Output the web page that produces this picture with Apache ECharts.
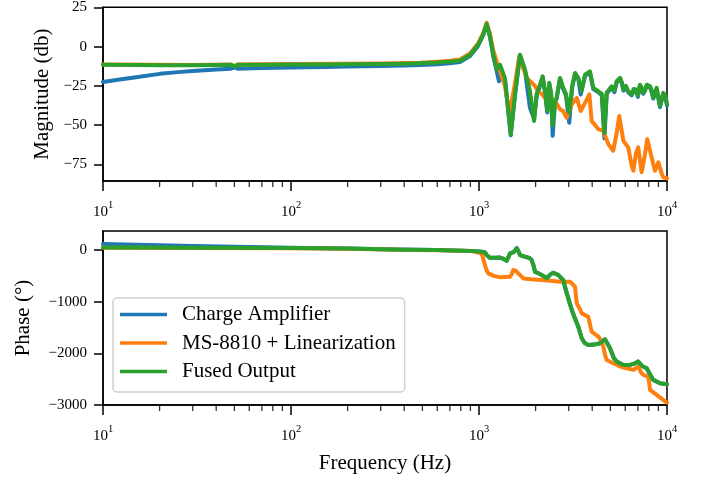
<!DOCTYPE html>
<html>
<head>
<meta charset="utf-8">
<script src="https://cdn.jsdelivr.net/npm/echarts@6/dist/echarts.min.js"></script>
<style>html,body{margin:0;padding:0;background:#fff}#c{width:702px;height:481px}</style>
</head>
<body>
<div id="c"></div>
<script>
const seriesNames = ['Charge Amplifier', 'MS-8810 + Linearization', 'Fused Output'];
const colors = ['#1f77b4', '#ff7f0e', '#2ca02c'];
const magTicks = [-75, -50, -25, 0, 25];
const phaseTicks = [-3000, -2000, -1000, 0];
const magRange = [-85.6, 25.2];
const phaseRange = [-3000, 370];
const minorFreqs = [20,30,40,50,60,70,80,90,200,300,400,500,600,700,800,900,2000,3000,4000,5000,6000,7000,8000,9000];

const magCharge = [[10,-22.5],[12,-21],[15,-19.5],[20,-17.3],[25,-16.2],[30,-15.5],[40,-14.5],[48,-14.0],[50,-13.2],[52,-14.0],[70,-13.6],[100,-13.3],[150,-13],[200,-12.6],[300,-12.3],[400,-12],[490,-11.7],[600,-11.2],[700,-10.5],[792,-9.8],[896,-6.0],[988,0.5],[1050,7],[1099,14],[1145,6],[1191,-6],[1242,-15.5],[1277,-22],[1294,-14],[1374,-21],[1475,-56.5],[1554,-31],[1652,-5.5],[1757,-15.5],[1867,-39],[1963,-46],[2028,-31],[2100,-26],[2182,-19.5],[2244,-29],[2307,-42],[2366,-24],[2420,-31],[2466,-56.8],[2535,-36],[2588,-33],[2698,-20.5],[2806,-27],[2900,-31],[3020,-48.5],[3130,-26],[3243,-17.5],[3373,-20.5],[3475,-30.5],[3664,-18.5],[3892,-16.5],[4055,-27],[4315,-29],[4500,-31],[4645,-58.5],[4778,-30],[5082,-26],[5250,-29],[5395,-23],[5623,-20.5],[5750,-23],[5861,-28],[6050,-26],[6223,-29],[6350,-30],[6486,-31],[6650,-28],[6839,-28],[7000,-32],[7178,-25],[7330,-27],[7482,-30],[7650,-29],[7798,-25],[7950,-24],[8128,-26],[8290,-29],[8453,-33],[8630,-30],[8811,-27],[9000,-28],[9183,-38.5],[9380,-34],[9550,-30],[9800,-32],[10000,-37.5]];

const magMS = [[10,-11.3],[20,-11.5],[30,-11.6],[48,-11.4],[50,-12.3],[52,-11.4],[100,-11.0],[200,-10.9],[300,-10.7],[490,-10.2],[600,-9.6],[700,-9.0],[792,-8.2],[896,-4.3],[988,2],[1050,8.3],[1099,15.3],[1145,8],[1191,-2.5],[1242,-9.4],[1294,-15.7],[1374,-25],[1449,-42],[1520,-30],[1580,-18],[1637,-6.2],[1700,-12],[1795,-20],[1906,-23],[1986,-25],[2061,-28.4],[2153,-30],[2244,-32.6],[2400,-33],[2535,-34.7],[2698,-39.9],[2800,-41],[2926,-45.3],[3020,-41],[3111,-36.8],[3311,-32.6],[3475,-41],[3664,-35.8],[3864,-30.4],[3972,-47.3],[4150,-50],[4315,-52.6],[4582,-53.7],[4875,-62.1],[5176,-66.3],[5400,-55],[5572,-44.2],[5861,-60],[6223,-64.2],[6486,-75.8],[6622,-79],[6839,-68],[7031,-64.2],[7328,-80],[7600,-70],[7852,-58.9],[8279,-70.5],[8630,-79],[8995,-73.7],[9376,-80.9],[9550,-83.2],[10000,-84]];

const magFused = [[10,-11.5],[15,-11.7],[20,-11.8],[30,-11.8],[40,-11.7],[48,-11.5],[50,-12.8],[52,-11.5],[70,-11.5],[100,-11.3],[150,-11.3],[200,-11.2],[300,-11.0],[400,-10.8],[490,-10.5],[600,-10.0],[700,-9.5],[792,-8.9],[896,-5.1],[988,1.2],[1050,7.5],[1099,14.5],[1145,6.5],[1191,-5.1],[1242,-14.6],[1294,-11.5],[1374,-20],[1475,-55.8],[1554,-30.4],[1652,-5.1],[1757,-14.6],[1867,-28.4],[1963,-47.3],[2028,-30],[2100,-25],[2182,-18.9],[2244,-28],[2307,-41],[2366,-23],[2420,-30],[2466,-50],[2535,-35],[2588,-32.6],[2698,-19.9],[2806,-26.2],[2900,-30],[3020,-42],[3130,-25],[3243,-16.7],[3373,-19.9],[3518,-28],[3664,-17.8],[3892,-15.7],[4055,-26.2],[4315,-28.4],[4500,-30],[4645,-55],[4778,-29.4],[5082,-25.2],[5250,-28],[5395,-22],[5623,-19.9],[5750,-22.5],[5861,-27.3],[6050,-25],[6223,-28.4],[6350,-29],[6486,-30.4],[6650,-27],[6839,-27.3],[7000,-31],[7178,-24.2],[7330,-26],[7482,-29.4],[7650,-28],[7798,-24.2],[7950,-23],[8128,-25.2],[8290,-28],[8453,-32.6],[8630,-29],[8811,-26.2],[9000,-27],[9183,-37.8],[9380,-33],[9550,-29.4],[9800,-31],[10000,-36.8]];

const phaseCharge = [[10,116],[15,102],[20,92],[30,80],[50,64],[100,47],[200,32],[380,12],[600,2],[900,-15],[1033,-30],[1076,-45],[1100,-100],[1145,-150],[1169,-160],[1230,-150],[1294,-145],[1350,-170],[1403,-207],[1440,-120],[1462,-64],[1530,-40],[1588,40],[1620,-20],[1652,-97],[1757,-130],[1850,-150],[1906,-193],[1950,-300],[1986,-420],[2080,-450],[2153,-483],[2220,-510],[2290,-548],[2400,-470],[2483,-438],[2560,-460],[2642,-483],[2806,-580],[2900,-780],[2985,-935],[3080,-1100],[3162,-1225],[3373,-1483],[3518,-1708],[3650,-1800],[3811,-1837],[4100,-1830],[4406,-1805],[4677,-1728],[4800,-1800],[4977,-1901],[5200,-2080],[5395,-2160],[5861,-2224],[6353,-2224],[6700,-2200],[7031,-2160],[7400,-2250],[7798,-2288],[8100,-2400],[8453,-2514],[9183,-2578],[10000,-2598]];

const phaseMS = [[10,45],[30,42],[100,36],[200,28],[380,5],[600,-2],[900,-15],[1033,-64],[1050,-150],[1076,-290],[1100,-400],[1120,-451],[1200,-500],[1294,-528],[1462,-516],[1500,-450],[1521,-387],[1570,-400],[1618,-451],[1722,-548],[1900,-565],[2153,-580],[2400,-595],[2698,-613],[3048,-613],[3243,-710],[3280,-900],[3311,-1031],[3450,-1150],[3518,-1225],[3811,-1290],[3900,-1450],[3972,-1580],[4315,-1677],[4450,-1750],[4582,-1870],[4700,-2050],[4778,-2127],[5176,-2191],[5600,-2250],[6109,-2288],[6622,-2320],[7031,-2256],[7300,-2380],[7482,-2417],[7956,-2450],[8128,-2708],[8811,-2804],[9550,-2901],[10000,-2953]];

const phaseFused = [[10,52],[30,48],[100,40],[200,30],[380,8],[600,0],[900,-15],[1033,-30],[1076,-45],[1100,-100],[1145,-150],[1169,-160],[1230,-150],[1294,-145],[1350,-170],[1403,-207],[1440,-120],[1462,-64],[1530,-40],[1588,35],[1620,-20],[1652,-97],[1757,-130],[1850,-150],[1906,-193],[1950,-300],[1986,-420],[2080,-450],[2153,-483],[2220,-510],[2290,-548],[2400,-470],[2483,-438],[2560,-460],[2642,-483],[2806,-580],[2900,-780],[2985,-935],[3080,-1100],[3162,-1225],[3373,-1483],[3518,-1708],[3650,-1800],[3811,-1837],[4100,-1830],[4406,-1805],[4677,-1728],[4800,-1800],[4977,-1901],[5200,-2080],[5395,-2160],[5861,-2224],[6353,-2224],[6700,-2200],[7031,-2160],[7400,-2250],[7798,-2288],[8100,-2400],[8453,-2514],[9183,-2578],[10000,-2598]];

const FONT = 'Liberation Serif';
const minus = v => String(v).replace('-', '\u2212');

function majorX(gridIndex, withName) {
  const ax = {
    type: 'log', logBase: 10, min: 10, max: 10000, gridIndex, position: 'bottom',
    axisLine: { show: true, onZero: false, lineStyle: { color: '#000', width: 1.5 } },
    axisTick: { show: true, length: 10, lineStyle: { color: '#000', width: 1.5 } },
    splitLine: { show: false },
    axisLabel: {
      margin: 19, showMinLabel: true, showMaxLabel: true,
      formatter: v => '{b|10}{s|' + Math.round(Math.log10(v)) + '}',
      rich: {
        b: { fontFamily: FONT, fontSize: 15, color: '#000', lineHeight: 20, verticalAlign: 'bottom' },
        s: { fontFamily: FONT, fontSize: 10.5, color: '#000', lineHeight: 9, verticalAlign: 'top' }
      }
    }
  };
  if (withName) {
    ax.name = 'Frequency (Hz)';
    ax.nameLocation = 'middle';
    ax.nameGap = 48;
    ax.nameTextStyle = { fontFamily: FONT, fontSize: 21, color: '#000' };
  }
  return ax;
}
function yAx(gridIndex, range, ticks, name, gap) {
  return {
    type: 'value', gridIndex, min: range[0], max: range[1], position: 'left',
    name, nameLocation: 'middle', nameGap: gap, nameRotate: 90,
    nameTextStyle: { fontFamily: FONT, fontSize: 21, color: '#000' },
    axisLine: { show: true, onZero: false, lineStyle: { color: '#000', width: 1.5 } },
    axisTick: { show: true, length: 9, customValues: ticks, lineStyle: { color: '#000', width: 1.5 } },
    axisLabel: { customValues: ticks, margin: 16, formatter: minus, fontFamily: FONT, fontSize: 15, color: '#000' },
    splitLine: { show: false }
  };
}
function line(name, data, xi, yi, color) {
  return { name, type: 'line', data, xAxisIndex: xi, yAxisIndex: yi, showSymbol: false, symbol: 'none',
    lineStyle: { width: 4, color, join: 'round', cap: 'round' }, itemStyle: { color }, clip: true, animation: false };
}
// minor log ticks: short marks hung below the bottom edge of each panel, placed through the log axis
function minorTicks(xi, yi, bottom) {
  return { name: 'minor-ticks', type: 'scatter', xAxisIndex: xi, yAxisIndex: yi,
    data: minorFreqs.map(f => [f, bottom]), symbol: 'rect', symbolSize: [1.3, 6], symbolOffset: [0, 3],
    itemStyle: { color: '#000' }, clip: false, silent: true, z: 5, animation: false };
}

const chart = echarts.init(document.getElementById('c'), null, { renderer: 'canvas' });
chart.setOption({
  animation: false,
  backgroundColor: '#fff',
  grid: [
    { left: 103, right: 35, top: 6, height: 175, show: true, borderColor: '#000', borderWidth: 1.5 },
    { left: 103, right: 35, top: 231, height: 174, show: true, borderColor: '#000', borderWidth: 1.5 }
  ],
  xAxis: [majorX(0, false), majorX(1, true)],
  yAxis: [
    yAx(0, magRange, magTicks, 'Magnitude (db)', 50),
    yAx(1, phaseRange, phaseTicks, 'Phase (\u00b0)', 69)
  ],
  legend: {
    data: seriesNames, orient: 'vertical', left: 113, top: 298,
    icon: 'rect', itemWidth: 47, itemHeight: 3.5, itemGap: 7.5,
    padding: [6, 9, 10, 7],
    backgroundColor: '#fff', borderColor: '#d0d0d0', borderWidth: 1.5, borderRadius: 4,
    textStyle: { fontFamily: FONT, fontSize: 21, color: '#000', lineHeight: 21, padding: [0, 0, 0, 10] }
  },
  series: [
    line(seriesNames[0], magCharge, 0, 0, colors[0]),
    line(seriesNames[1], magMS, 0, 0, colors[1]),
    line(seriesNames[2], magFused, 0, 0, colors[2]),
    line(seriesNames[0], phaseCharge, 1, 1, colors[0]),
    line(seriesNames[1], phaseMS, 1, 1, colors[1]),
    line(seriesNames[2], phaseFused, 1, 1, colors[2]),
    minorTicks(0, 0, magRange[0]),
    minorTicks(1, 1, phaseRange[0])
  ]
});
</script>
</body>
</html>
